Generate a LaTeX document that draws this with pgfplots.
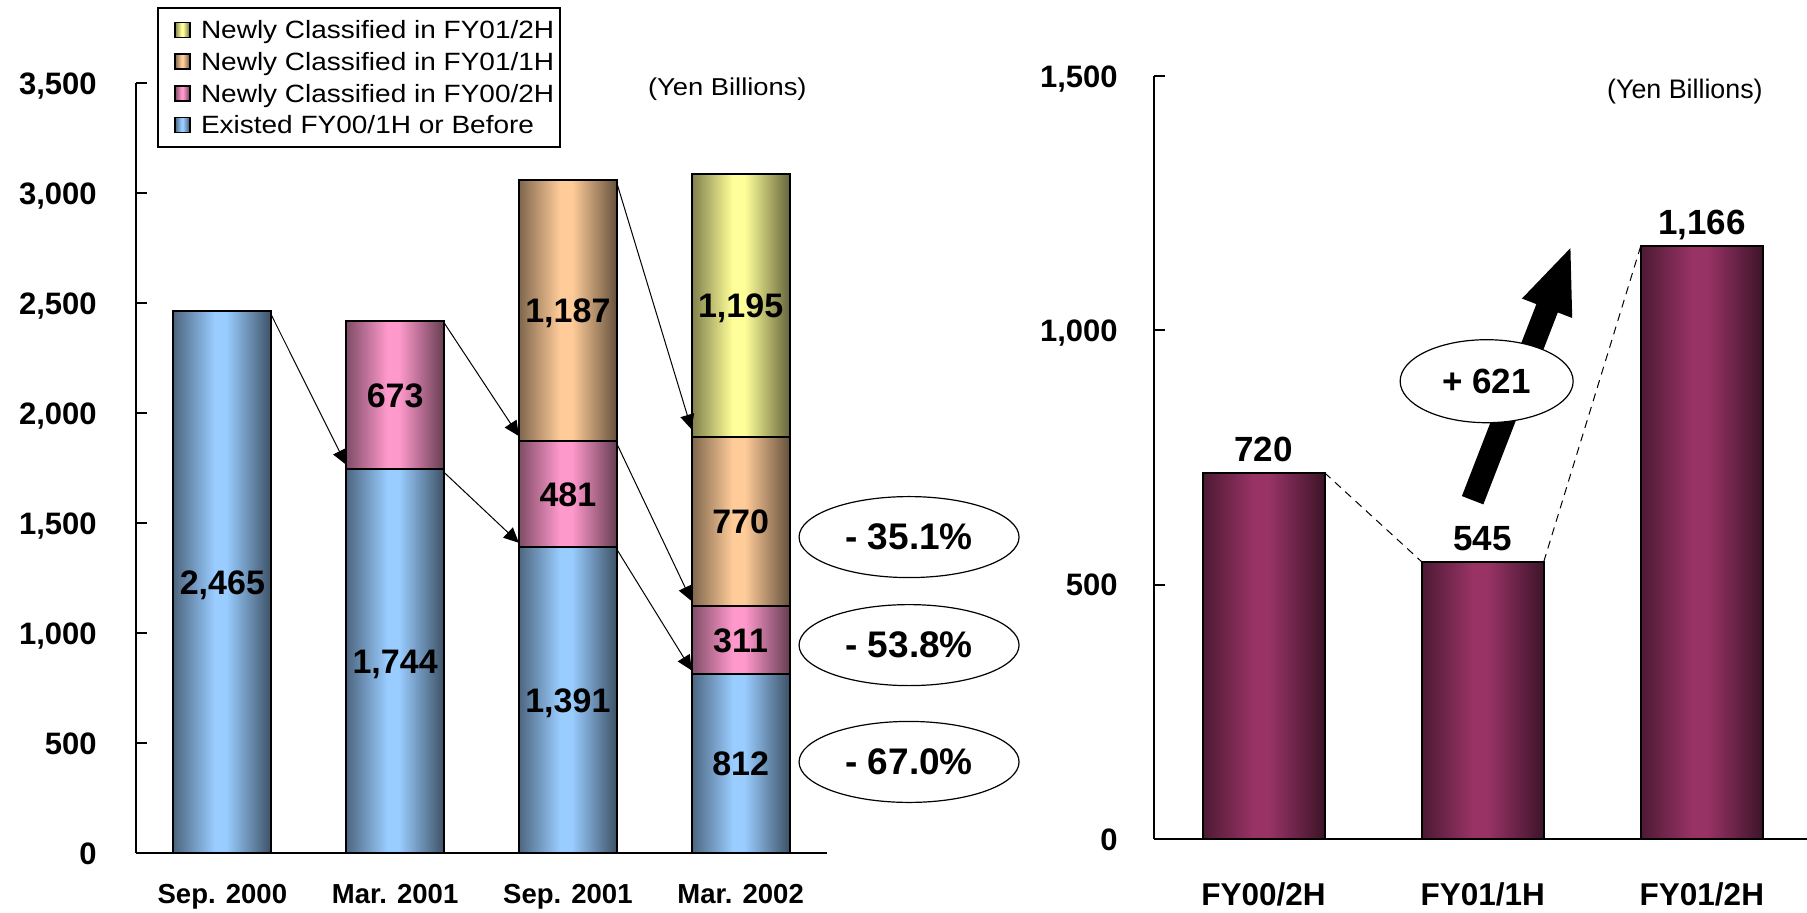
\documentclass[border=0pt]{standalone}
\usepackage{pgfplots}
\pgfplotsset{compat=1.18}
\usepackage{fontspec}
\setmainfont{Liberation Sans}
\newfontfamily\widefont[FakeStretch=1.12]{Liberation Sans}
\usetikzlibrary{arrows.meta,shapes.geometric}

\definecolor{cBlue}{RGB}{153,204,255}
\definecolor{cPink}{RGB}{255,153,204}
\definecolor{cOrange}{RGB}{255,204,153}
\definecolor{cYellow}{RGB}{255,255,153}
\definecolor{cWine}{RGB}{153,51,102}

% cylinder-like left-to-right gradients for the bars
\newcommand\barshade[2]{%
  \pgfdeclarehorizontalshading{#1}{100bp}{%
    color(0bp)=(#2!50!black); color(25bp)=(#2!50!black);
    color(46bp)=(#2); color(52bp)=(#2);
    color(75bp)=(#2!40!black); color(100bp)=(#2!40!black)}}
\barshade{shBlue}{cBlue}
\barshade{shPink}{cPink}
\barshade{shOrange}{cOrange}
\barshade{shYellow}{cYellow}
\barshade{shWine}{cWine}

\tikzset{
  segbar/.style={draw=black, line width=1pt, shading=#1},
  seglab/.style={anchor=base, inner sep=0pt, yshift=-6.1pt,
    font=\bfseries\fontsize{17}{17}\selectfont},
  thinarrow/.style={line width=0.5pt, -{Triangle[length=7.5pt,width=7pt]}},
  pct/.style={ellipse, draw=black, line width=0.6pt, fill=white,
    minimum width=110pt, minimum height=40.5pt, inner sep=0pt,
    font=\bfseries\fontsize{18.5}{18.5}\selectfont},
}

% every column of the left chart is stacked in its own layer of axes,
% so that each bar gets its own gradient
\pgfplotsset{
  leftgeom/.style={at={(68pt,29.5pt)}, anchor=south west,
    scale only axis, width=345.5pt, height=385pt,
    xmin=-0.5, xmax=3.5, ymin=0, ymax=3500, clip=false},
  leftbars/.style={leftgeom, ybar stacked, bar width=49pt, hide axis},
}

\begin{document}
\begin{tikzpicture}[x=1pt,y=1pt]
\path[use as bounding box] (0,0) rectangle (903.5,456);

% ---------------- left: balance by origin of classification ----------------
% axes, legend and the Mar. 2002 column
\begin{axis}[
  leftgeom,
  ybar stacked, bar width=49pt,
  axis x line*=bottom, axis y line*=left,
  axis line style={line width=1.1pt},
  xtick={0,1,2,3},
  xticklabels={Sep. 2000,Mar. 2001,Sep. 2001,Mar. 2002},
  xtick style={draw=none},
  ytick={0,500,...,3500},
  ytick style={line width=1pt, black},
  tick align=inside, major tick length=5.5pt,
  /pgf/number format/1000 sep={,},
  /pgf/number format/assume math mode=true,
  yticklabel style={anchor=base east, inner sep=0pt, xshift=-19.5pt, yshift=-5.55pt,
    font=\bfseries\fontsize{15.5}{15.5}\selectfont},
  xticklabel style={anchor=base, inner sep=0pt, yshift=-25.25pt,
    font=\bfseries\fontsize{13.75}{13.75}\selectfont},
  legend image code/.code={%
    \pgfpathmoveto{\pgfpoint{0pt}{0pt}}\pgfusepath{discard}%
    \draw[#1, line width=0.8pt] (5.5pt,-3.75pt) rectangle (13pt,3.75pt);
    \pgfpathmoveto{\pgfpoint{18.5pt}{0pt}}\pgfusepath{discard}},
  reverse legend,
  legend cell align=left,
  legend style={at={(axis description cs:0.0304,1.0987)}, anchor=north west,
    draw=black, line width=1pt, inner xsep=3pt, inner ysep=6.5pt,
    row sep=6.95pt,
    nodes={inner sep=0pt, text height=8.9pt, text depth=0pt},
    font=\widefont\fontsize{12.5}{12.5}\selectfont},
]
\addplot[segbar=shBlue]   coordinates {(3,812)};
\addplot[segbar=shPink]   coordinates {(3,311)};
\addplot[segbar=shOrange] coordinates {(3,770)};
\addplot[segbar=shYellow] coordinates {(3,1195)};
\legend{Existed FY00/1H or Before,
        Newly Classified in FY00/2H,
        Newly Classified in FY01/1H,
        Newly Classified in FY01/2H}
\end{axis}

% Sep. 2001
\begin{axis}[leftbars]
\addplot[segbar=shBlue]   coordinates {(2,1391)};
\addplot[segbar=shPink]   coordinates {(2,481)};
\addplot[segbar=shOrange] coordinates {(2,1187)};
\end{axis}

% Mar. 2001
\begin{axis}[leftbars]
\addplot[segbar=shBlue]   coordinates {(1,1744)};
\addplot[segbar=shPink]   coordinates {(1,673)};
\end{axis}

% Sep. 2000
\begin{axis}[leftbars]
\addplot[segbar=shBlue]   coordinates {(0,2465)};
\end{axis}

% annotations on top of all columns
\begin{axis}[leftgeom, hide axis]
\addplot[draw=none, forget plot] coordinates {(0,0)};

% segment values, set at the middle of each segment
\node[seglab] at (axis cs:0,1232.5) {2,465};
\node[seglab] at (axis cs:1,872)    {1,744};
\node[seglab] at (axis cs:1,2080.5) {673};
\node[seglab] at (axis cs:2,695.5)  {1,391};
\node[seglab] at (axis cs:2,1631.5) {481};
\node[seglab] at (axis cs:2,2465.5) {1,187};
\node[seglab] at (axis cs:3,406)    {812};
\node[seglab] at (axis cs:3,967.5)  {311};
\node[seglab] at (axis cs:3,1508)   {770};
\node[seglab] at (axis cs:3,2490.5) {1,195};

% how each cohort carries over to the next half-year
\draw[thinarrow] (axis cs:0.2836,2445) -- (axis cs:0.7164,1765);
\draw[thinarrow] (axis cs:1.2836,2410) -- (axis cs:1.7164,1895);
\draw[thinarrow] (axis cs:1.2836,1730) -- (axis cs:1.7164,1410);
\draw[thinarrow] (axis cs:2.2836,3045) -- (axis cs:2.7164,1925);
\draw[thinarrow] (axis cs:2.2836,1860) -- (axis cs:2.7164,1145);
\draw[thinarrow] (axis cs:2.2836,1380) -- (axis cs:2.7164,830);

\node[pct] at (axis cs:3.975,1436) {- 35.1\%};
\node[pct] at (axis cs:3.975,945)  {- 53.8\%};
\node[pct] at (axis cs:3.975,414)  {- 67.0\%};
\end{axis}

% ---------------- right: newly classified per half-year ----------------
\begin{axis}[
  at={(577pt,36.5pt)}, anchor=south west,
  scale only axis, width=326.5pt, height=381.5pt,
  ybar, bar width=61pt, bar shift=0pt,
  xmin=-0.5, xmax=2.48, ymin=0, ymax=1500,
  clip=false,
  axis x line*=bottom, axis y line*=left,
  axis line style={line width=1.1pt},
  xtick={0,1,2},
  xticklabels={FY00/2H,FY01/1H,FY01/2H},
  xtick style={draw=none},
  ytick={0,500,1000,1500},
  ytick style={line width=1pt, black},
  tick align=inside, major tick length=5.5pt,
  /pgf/number format/1000 sep={,},
  /pgf/number format/assume math mode=true,
  yticklabel style={anchor=base east, inner sep=0pt, xshift=-18pt, yshift=-5.55pt,
    font=\bfseries\fontsize{15.5}{15.5}\selectfont},
  xticklabel style={anchor=base, inner sep=0pt, yshift=-33.25pt,
    font=\bfseries\fontsize{15.75}{15.75}\selectfont},
  nodes near coords,
  every node near coord/.append style={anchor=base, inner sep=0pt, yshift=5.5pt,
    font=\bfseries\fontsize{17.5}{17.5}\selectfont, black},
]
\addplot[segbar=shWine] coordinates {(0,720)};
\addplot[segbar=shWine] coordinates {(1,545)};
\addplot[segbar=shWine] coordinates {(2,1166)};

\draw[line width=0.5pt, dash pattern=on 4pt off 3pt]
  (axis cs:0.2785,720) -- (axis cs:0.7215,545);
\draw[line width=0.5pt, dash pattern=on 4pt off 3pt]
  (axis cs:1.2785,545) -- (axis cs:1.7215,1166);

\draw[line width=11.5pt, -{Triangle[length=34pt,width=24pt]}]
  (axis cs:0.954,666) -- (axis cs:1.406,1168);
\node[ellipse, draw=black, line width=0.6pt, fill=white,
  minimum width=86.5pt, minimum height=41.5pt, inner sep=0pt,
  font=\bfseries\fontsize{17.5}{17.5}\selectfont] at (axis cs:1.018,900) {+ 621};
\end{axis}

\node[anchor=east, inner sep=0pt, font=\widefont\fontsize{12.2}{12.2}\selectfont]
  at (403.5,411.5) {(Yen Billions)};
\node[anchor=east, inner sep=0pt, font=\fontsize{13.4}{13.4}\selectfont]
  at (881.5,410) {(Yen Billions)};
\end{tikzpicture}
\end{document}
